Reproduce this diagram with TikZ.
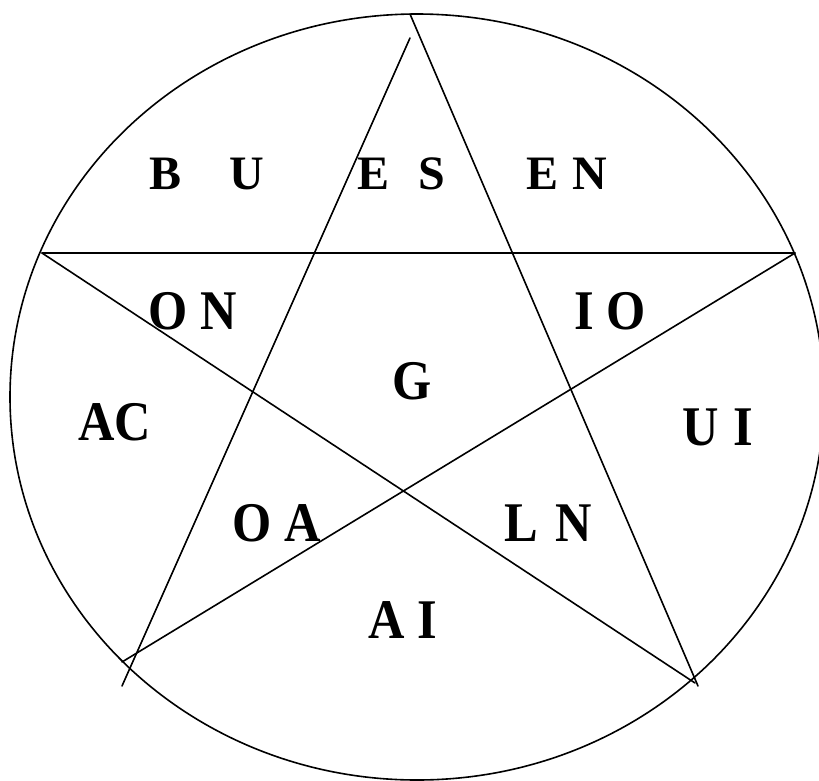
\documentclass[tikz,border=0pt]{standalone}
\usepackage{fontspec}
\setmainfont{Liberation Serif}
\newcommand{\tallt}[1]{\scalebox{0.9}[1]{#1}}
\begin{document}
\begin{tikzpicture}[x=1pt,y=-1pt,
  lbl/.style={font=\fontsize{48}{48}\selectfont\bfseries, inner sep=0pt, anchor=center},
  lblb/.style={font=\fontsize{56}{56}\selectfont\bfseries, inner sep=0pt, anchor=center},
  ln/.style={line width=1.6pt, line cap=round}]
\useasboundingbox (0,0) rectangle (819,780);
\clip (0,0) rectangle (819,780);
\draw[ln] (417,397) ellipse [x radius=407, y radius=383];
\coordinate (apex) at (410,14);
\coordinate (apexb) at (410,38);
\coordinate (lv) at (42,253);
\coordinate (rv) at (795,253);
\coordinate (blA) at (122,686);
\coordinate (blB) at (122,662);
\coordinate (brA) at (698,686);
\coordinate (brB) at (695,683);
\draw[ln] (apex) -- (brA);
\draw[ln] (apexb) -- (blA);
\draw[ln] (lv) -- (rv);
\draw[ln] (lv) -- (brB);
\draw[ln] (rv) -- (blB);
\node[lbl] (bu) at (207,174) {B\quad U};
\node[lbl] (es) at (401,174) {E\hspace{0.6em}S};
\node[lbl] (en) at (567,174) {E\hspace{0.3em}N};
\node[lblb] (on) at (193,311) {\tallt{O N}};
\node[lblb] (io) at (610,311) {\tallt{I O}};
\node[lblb] (g) at (412,381) {\tallt{G}};
\node[lblb] (ac) at (115,422) {\tallt{AC}};
\node[lblb] (ui) at (718,427) {\tallt{U\hspace{0.3em}I}};
\node[lblb] (oa) at (277,523) {\tallt{O A}};
\node[lblb] (lnn) at (548,523) {\tallt{L\hspace{0.35em}N}};
\node[lblb] (ai) at (403,620) {\tallt{A I}};
\end{tikzpicture}
\end{document}
